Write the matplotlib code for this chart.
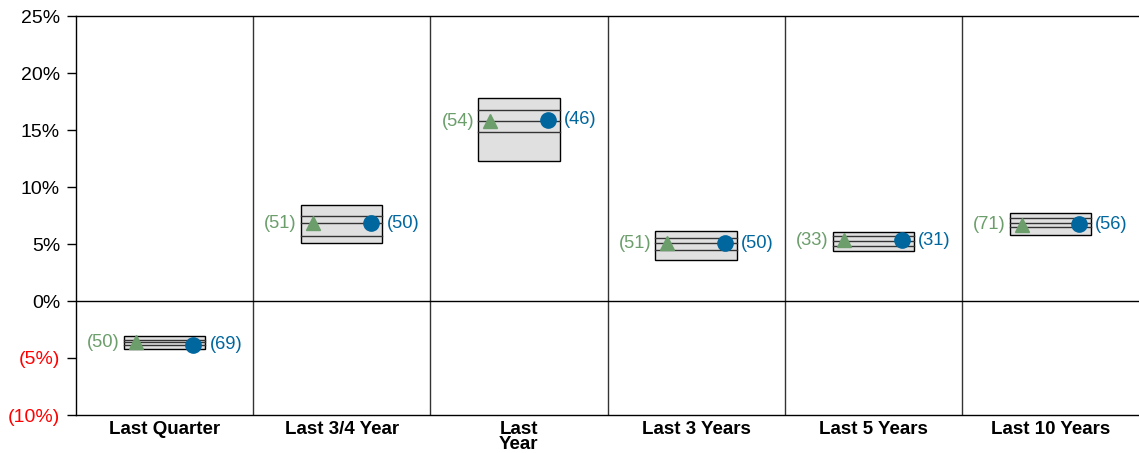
import matplotlib.pyplot as plt
from matplotlib.patches import Rectangle
from matplotlib.ticker import FuncFormatter, MultipleLocator

plt.rcParams["font.family"] = ["Liberation Sans", "DejaVu Sans"]

# Periodos e faixas de percentis (retorno %)
categories = ["Last Quarter", "Last 3/4 Year", "Last\nYear",
              "Last 3 Years", "Last 5 Years", "Last 10 Years"]
pct_90 = [-3.07, 8.42, 17.81, 6.17, 6.03, 7.69]
pct_75 = [-3.38, 7.48, 16.73, 5.55, 5.73, 7.24]
pct_50 = [-3.64, 6.82, 15.79, 5.06, 5.29, 6.84]
pct_25 = [-3.90, 5.73, 14.80, 4.47, 4.85, 6.49]
pct_10 = [-4.21, 5.11, 12.25, 3.60, 4.39, 5.79]

index_ret = [-3.60, 6.82, 15.75, 5.05, 5.35, 6.70]
fund_ret = [-3.85, 6.82, 15.90, 5.05, 5.35, 6.75]
index_rank = [50, 51, 54, 51, 33, 71]
fund_rank = [69, 50, 46, 50, 31, 56]

GREEN = "#6b9e6b"
BLUE = "#00669e"
HALF = 0.23      # meia largura da caixa
MOFF = 0.163     # deslocamento dos marcadores

fig = plt.figure(figsize=(11.39, 4.53), dpi=100)
ax = fig.add_axes([76 / 1139, 1 - 415 / 453, 1 - 76 / 1139, (415 - 16) / 453])

for i in range(len(categories)):
    ax.add_patch(Rectangle((i - HALF, pct_10[i]), 2 * HALF, pct_90[i] - pct_10[i],
                           facecolor="#e0e0e0", edgecolor="black", lw=1, zorder=2))
    for v in (pct_75[i], pct_50[i], pct_25[i]):
        ax.plot([i - HALF, i + HALF], [v, v], color="#333333", lw=1, zorder=3)
    ax.plot(i - MOFF, index_ret[i], marker="^", color=GREEN, ms=9.5, zorder=4,
            linestyle="none")
    ax.plot(i + MOFF, fund_ret[i], marker="o", color=BLUE, ms=11, zorder=4,
            linestyle="none")
    ax.annotate(f"({index_rank[i]})", (i - HALF, index_ret[i]), xytext=(-3, 0),
                textcoords="offset points", ha="right", va="center",
                color=GREEN, fontsize=13.2)
    ax.annotate(f"({fund_rank[i]})", (i + HALF, fund_ret[i]), xytext=(3, 0),
                textcoords="offset points", ha="left", va="center",
                color=BLUE, fontsize=13.2)

for x in [0.5, 1.5, 2.5, 3.5, 4.5]:
    ax.axvline(x, color="#333333", lw=1, zorder=1)
ax.axhline(0, color="black", lw=1, zorder=1)

ax.set_xlim(-0.5, 5.5)
ax.set_ylim(-10, 25)
ax.set_xticks(range(len(categories)))
ax.set_xticklabels(categories, fontweight="bold", fontsize=13.5, linespacing=0.85)
ax.tick_params(axis="x", length=0, pad=4)
ax.yaxis.set_major_locator(MultipleLocator(5))
ax.yaxis.set_major_formatter(FuncFormatter(
    lambda v, _: f"({abs(v):.0f}%)" if v < 0 else f"{v:.0f}%"))
ax.tick_params(axis="y", length=6.5, width=1, pad=5, labelsize=14)
for lab, v in zip(ax.get_yticklabels(), ax.get_yticks()):
    if v < 0:
        lab.set_color("red")

ax.spines["right"].set_visible(False)
for s in ("left", "top", "bottom"):
    ax.spines[s].set_linewidth(1)

fig.savefig("out.png", dpi=100)
